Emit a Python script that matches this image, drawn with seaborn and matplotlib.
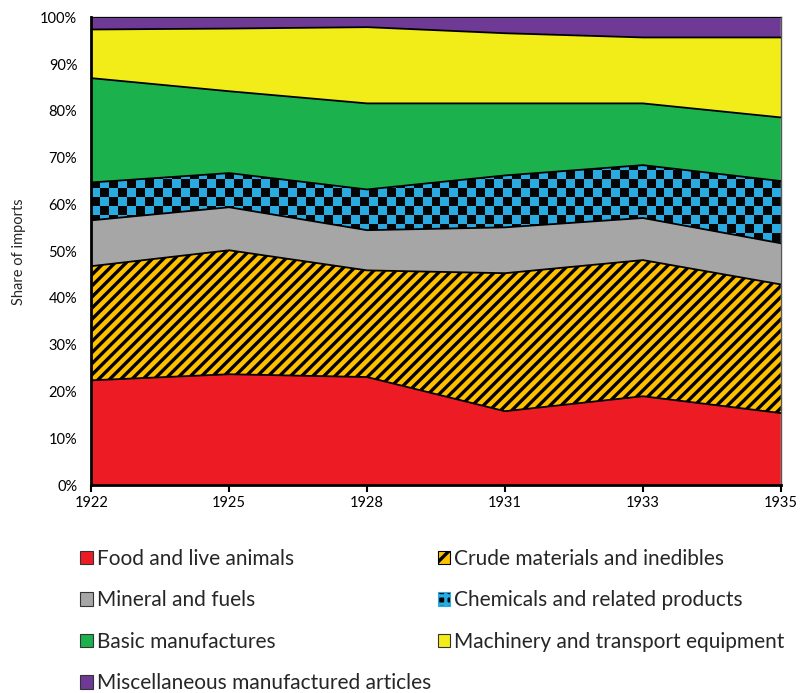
"""
Share of imports by commodity group, 1922-1935 (100% stacked area).
Writes out.png.
"""
import numpy as np
import pandas as pd
import matplotlib

matplotlib.use("Agg")
import matplotlib.pyplot as plt
from matplotlib.colors import ListedColormap
from matplotlib.patches import Patch
from matplotlib.ticker import PercentFormatter
import seaborn as sns

years = ["1922", "1925", "1928", "1931", "1933", "1935"]
categories = [
    "Food and live animals",
    "Crude materials and inedibles",
    "Mineral and fuels",
    "Chemicals and related products",
    "Basic manufactures",
    "Machinery and transport equipment",
    "Miscellaneous manufactured articles",
]
# shares in percent
food = [22.4, 23.7, 23.1, 15.8, 19.0, 15.4]
crude = [24.4, 26.5, 22.8, 29.5, 29.1, 27.5]
mineral = [9.8, 9.2, 8.6, 9.8, 9.0, 8.8]
chemicals = [8.1, 7.3, 8.7, 11.1, 11.3, 13.3]
basic = [22.3, 17.5, 18.4, 15.4, 13.2, 13.6]
machinery = [10.4, 13.4, 16.3, 15.0, 14.1, 17.1]
misc = [2.6, 2.4, 2.1, 3.4, 4.3, 4.3]

colors = ["#ED1C24", "#FFC000", "#A6A6A6", "#29ABE2", "#1BB14C", "#F2EC19", "#6F3A96"]

df = pd.DataFrame(
    dict(zip(categories, [food, crude, mineral, chemicals, basic, machinery, misc])),
    index=years,
)

sns.set_theme(style="white")
plt.rcParams["font.family"] = ["Lato", "DejaVu Sans"]
plt.rcParams["hatch.linewidth"] = 2.4

fig = plt.figure(figsize=(8, 6.93), dpi=100)
ax = fig.add_axes([0.114, 0.300, 0.862, 0.675])

x = np.arange(len(years))
bottom = np.zeros(len(years))
tops = []
for cat, color in zip(categories, colors):
    top = bottom + df[cat].to_numpy() / 100.0
    if cat == "Crude materials and inedibles":
        poly = ax.fill_between(x, bottom, top, facecolor=color, edgecolor="black",
                               hatch="///", linewidth=0, zorder=1)
    else:
        poly = ax.fill_between(x, bottom, top, facecolor=color, edgecolor="none",
                               linewidth=0, zorder=1)
    if cat == "Chemicals and related products":
        # checkerboard texture clipped to the band
        nx, ny = 77, 52
        checker = (np.add.outer(np.arange(ny), np.arange(nx)) % 2).astype(float)
        im = ax.imshow(checker, cmap=ListedColormap(["#050505", color]),
                       extent=(0, len(years) - 1, 0, 1), aspect="auto",
                       interpolation="nearest", zorder=2)
        im.set_clip_path(poly.get_paths()[0], transform=ax.transData)
    tops.append(top)
    bottom = top

for top in tops:
    sns.lineplot(x=x, y=top, color="black", linewidth=1.3, ax=ax, legend=False, zorder=3)

ax.set_xlim(0, len(years) - 1)
ax.set_ylim(0, 1)
ax.set_xticks(x)
ax.set_xticklabels(years)
ax.set_yticks(np.linspace(0, 1, 11))
ax.yaxis.set_major_formatter(PercentFormatter(1.0, decimals=0))
ax.tick_params(axis="both", labelsize=10.5, colors="black")
ax.tick_params(axis="x", bottom=True, length=5, width=1.5, direction="out", pad=3)
ax.tick_params(axis="y", left=False, pad=4)
ax.set_ylabel("Share of imports", fontsize=10.5, labelpad=10)

for side in ["left", "bottom"]:
    ax.spines[side].set_color("black")
    ax.spines[side].set_linewidth(2)
    ax.spines[side].set_zorder(4)
for side in ["top", "right"]:
    ax.spines[side].set_color("#555555")
    ax.spines[side].set_linewidth(1)

handles = {}
for cat, color in zip(categories, colors):
    if cat == "Crude materials and inedibles":
        handles[cat] = Patch(facecolor=color, edgecolor="black", hatch="//", linewidth=0.8)
    elif cat == "Chemicals and related products":
        handles[cat] = Patch(facecolor="#050505", edgecolor=color, hatch="++", linewidth=0.8)
    else:
        handles[cat] = Patch(facecolor=color, edgecolor="#333333", linewidth=0.8)

# legend fills column-wise, so order to read row-wise like the original
order = [categories[i] for i in [0, 2, 4, 6, 1, 3, 5]]
fig.legend([handles[c] for c in order], order, loc="upper left",
           bbox_to_anchor=(0.090, 0.220), ncol=2, frameon=False, fontsize=15,
           handlelength=0.6, handleheight=0.6, handletextpad=0.2,
           labelspacing=1.03, columnspacing=0.3, borderaxespad=0)

fig.savefig("out.png", dpi=100)
